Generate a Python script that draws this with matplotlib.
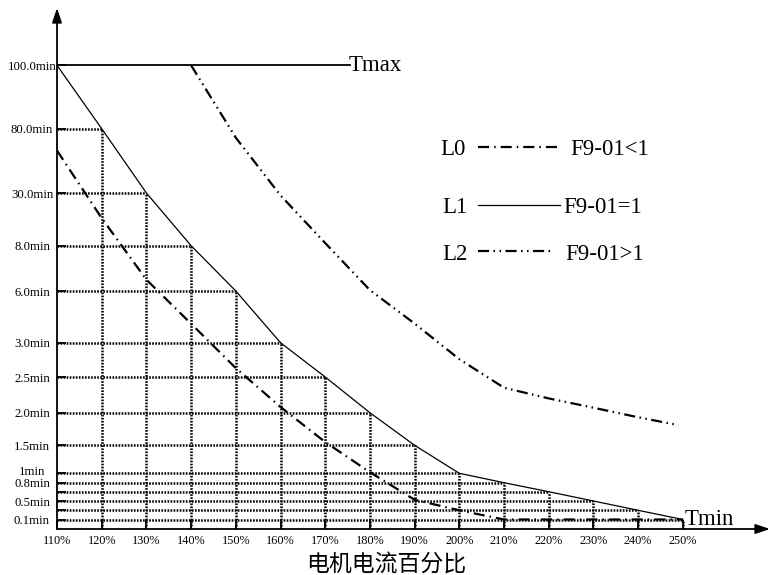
import numpy as np
import matplotlib
matplotlib.use("Agg")
import matplotlib.pyplot as plt
from matplotlib.lines import Line2D
from matplotlib.transforms import ScaledTranslation

plt.rcParams['font.family'] = ['Liberation Serif', 'DejaVu Serif']
plt.rcParams['lines.scale_dashes'] = False

# ---- data (percent of rated current, minutes) ----
current_pct = [110, 120, 130, 140, 150, 160, 170, 180, 190, 200, 210, 220, 230, 240, 250]
l1_min = [100, 80, 30, 8, 6, 3, 2.5, 2.0, 1.5, 1, 0.8, 0.65, 0.5, 0.3, 0.1]
l0_min = [63, 19.5, 6.5, 4.1, 2.63, 2.08, 1.55, 1.02, 0.52, 0.3, 0.1, 0.1, 0.1, 0.1, 0.1]
l2_pct = [140, 150, 160, 170, 180, 190, 200, 210, 220, 230, 240, 249]
l2_min = [100, 73, 29, 9.1, 6.04, 4.11, 2.76, 2.35, 2.2, 2.07, 1.93, 1.81]

level_min = [0.1, 0.3, 0.5, 0.65, 0.8, 1, 1.5, 2, 2.5, 3, 6, 8, 30, 80, 100]
level_lbl = ['0.1min', '', '0.5min', '', '0.8min', '1min', '1.5min', '2.0min',
             '2.5min', '3.0min', '6.0min', '8.0min', '30.0min', '80.0min', '100.0min']
x_lbl = ['%d%%' % p for p in current_pct]

t_max = 100
t_min = 0.1

# ---- non-uniform y scale: height (px above x axis) of each level ----
level_px = [9.5, 18.7, 28, 37.3, 46.3, 55.7, 83.7, 116.3, 152, 186.3, 238, 283.3, 336, 400.3, 463.7]
lv = np.array([0] + level_min, float)
hv = np.array([0] + level_px, float)
top_slope = (hv[-1] - hv[-2]) / (lv[-1] - lv[-2])


def fwd(v):
    v = np.asarray(v, float)
    out = np.interp(v, lv, hv)
    out = np.where(v > lv[-1], hv[-1] + (v - lv[-1]) * top_slope, out)
    out = np.where(v < 0, v * hv[1] / lv[1], out)
    return out


def inv(h):
    h = np.asarray(h, float)
    out = np.interp(h, hv, lv)
    out = np.where(h > hv[-1], lv[-1] + (h - hv[-1]) / top_slope, out)
    out = np.where(h < 0, h * lv[1] / hv[1], out)
    return out


W, H = 771, 575
fig = plt.figure(figsize=(W / 100, H / 100), dpi=100)
ax = fig.add_axes([57 / W, 46 / H, 713 / W, 521 / H])
ax.set_yscale('function', functions=(fwd, inv))
ax.set_xlim(110, 110 + 713 / 4.47)
ax.set_ylim(0, float(inv(521)))

for s in ax.spines.values():
    s.set_visible(False)

# axes with arrow heads
arrow = dict(arrowstyle='-|>,head_length=0.86,head_width=0.29', lw=1.3,
             color='black', shrinkA=0, shrinkB=0, mutation_scale=10)
ax.annotate('', xy=(1, 0), xytext=(0, 0), xycoords='axes fraction', arrowprops=arrow)
ax.annotate('', xy=(0, 1), xytext=(0, 0), xycoords='axes fraction', arrowprops=arrow)

# dotted grid up to the L1 curve
dot = (0, (1.2, 1.0))
for p, m in zip(current_pct[1:], l1_min[1:]):
    ax.plot([current_pct[0], p], [m, m], color='black', lw=1.8, ls=dot, zorder=1)
    ax.plot([p, p], [0, m], color='black', lw=1.8, ls=dot, zorder=1)

# Tmax line
ax.plot([current_pct[0], 175.5], [t_max, t_max], color='black', lw=1.3)
ax.text(175.3, t_max, 'Tmax', fontsize=16.5, ha='left', va='center')
ax.text(250.4, t_min, 'Tmin', fontsize=16.5, ha='left', va='center')

# curves
ls_l0 = (0, (8, 3.6, 1.1, 3.6))
ls_l2 = (0, (8, 3.2, 1.1, 3.2, 1.1, 3.2))
ax.plot(current_pct, l1_min, color='black', lw=0.9, zorder=3)
ax.plot(current_pct, l0_min, color='black', lw=1.6, ls=ls_l0, zorder=3)
ax.plot(l2_pct, l2_min, color='black', lw=1.6, ls=ls_l2, zorder=3)

# ticks
ax.set_xticks(current_pct, x_lbl)
ax.set_yticks(level_min, level_lbl)
ax.tick_params(direction='in', length=6.5, width=1.3, color='black')
ax.tick_params(axis='x', labelsize=8.8, pad=4.5)
ax.tick_params(axis='y', labelsize=9.2, pad=18)
for t in ax.get_yticklabels():
    t.set_horizontalalignment('center')
    if t.get_text() == '1min':
        t.set_transform(t.get_transform() + ScaledTranslation(0, 3 / 100, fig.dpi_scale_trans))

fig.text(386 / W, 1 - 564 / H, '电机电流百分比', fontsize=16.5, ha='center', va='center',
         family=['Noto Sans CJK SC', 'DejaVu Sans'])

# legend
def fx(x):
    return x / W


def fy(y):
    return 1 - y / H


rows = [('L0', ls_l0, 1.6, 147, 155, 440, 560, 570, 'F9-01<1'),
        ('L1', '-', 0.9, 205, 212.7, 442, 560, 563, 'F9-01=1'),
        ('L2', ls_l2, 1.6, 251, 260, 442, 553, 565, 'F9-01>1')]
for name, ls, lw, ly, base, tx, x1, rx, desc in rows:
    fig.add_artist(Line2D([fx(478), fx(x1)], [fy(ly), fy(ly)], color='black',
                          lw=lw, ls=ls, transform=fig.transFigure))
    fig.text(fx(tx), fy(base), name, fontsize=16.5, ha='left', va='baseline')
    fig.text(fx(rx), fy(base), desc, fontsize=16.5, ha='left', va='baseline')

fig.savefig('out.png', dpi=100)
